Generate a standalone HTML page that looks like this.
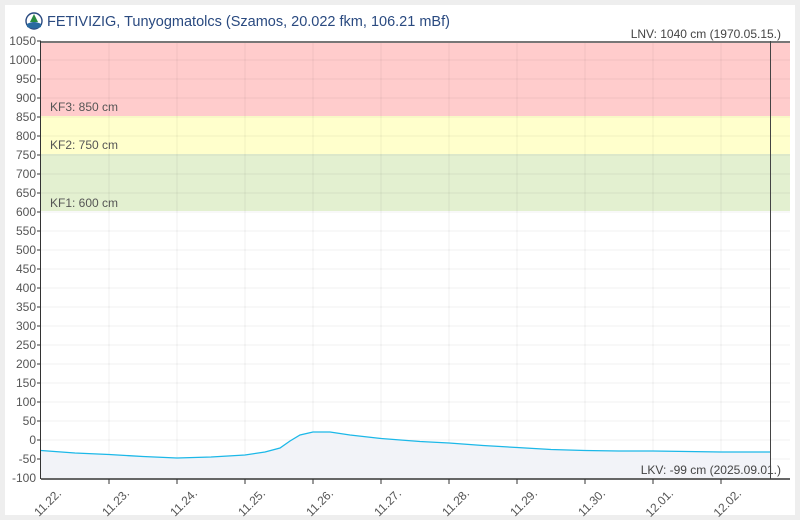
<!DOCTYPE html>
<html><head><meta charset="utf-8"><style>
html,body{margin:0;padding:0;background:#eeeeee;}
svg{display:block;font-family:"Liberation Sans",sans-serif;}
</style></head><body>
<svg width="800" height="520" xmlns="http://www.w3.org/2000/svg">
<rect x="5" y="5" width="790" height="510" fill="#fff"/>
<circle cx="34" cy="21" r="8" fill="#fff" stroke="#2a4a80" stroke-width="1.4"/>
<path d="M27 24 Q34 20 41 24 L41 27 Q34 30 27 27Z" fill="#2a6aa0"/>
<path d="M34 14 L30 22 L38 22Z" fill="#2a8a40"/>
<text x="47" y="26" font-size="14.5" fill="#2a4a80">FETIVIZIG, Tunyogmatolcs (Szamos, 20.022 fkm, 106.21 mBf)</text>
<rect x="41" y="41" width="749" height="75" fill="#ffcccc"/>
<rect x="41" y="116" width="749" height="38" fill="#ffffcc"/>
<rect x="41" y="154" width="749" height="57" fill="#e3f0d0"/>
<g stroke="#000" stroke-opacity="0.06" stroke-width="1">
<line x1="41" x2="790" y1="60" y2="60"/><line x1="41" x2="790" y1="79" y2="79"/><line x1="41" x2="790" y1="98" y2="98"/><line x1="41" x2="790" y1="117" y2="117"/><line x1="41" x2="790" y1="136" y2="136"/><line x1="41" x2="790" y1="155" y2="155"/><line x1="41" x2="790" y1="174" y2="174"/><line x1="41" x2="790" y1="193" y2="193"/><line x1="41" x2="790" y1="212" y2="212"/><line x1="41" x2="790" y1="231" y2="231"/><line x1="41" x2="790" y1="250" y2="250"/><line x1="41" x2="790" y1="269" y2="269"/><line x1="41" x2="790" y1="288" y2="288"/><line x1="41" x2="790" y1="307" y2="307"/><line x1="41" x2="790" y1="326" y2="326"/><line x1="41" x2="790" y1="345" y2="345"/><line x1="41" x2="790" y1="364" y2="364"/><line x1="41" x2="790" y1="383" y2="383"/><line x1="41" x2="790" y1="402" y2="402"/><line x1="41" x2="790" y1="421" y2="421"/><line x1="41" x2="790" y1="440" y2="440"/><line x1="41" x2="790" y1="459" y2="459"/>
<line y1="41" y2="478" x1="109" x2="109"/><line y1="41" y2="478" x1="177" x2="177"/><line y1="41" y2="478" x1="245" x2="245"/><line y1="41" y2="478" x1="313" x2="313"/><line y1="41" y2="478" x1="381" x2="381"/><line y1="41" y2="478" x1="449" x2="449"/><line y1="41" y2="478" x1="517" x2="517"/><line y1="41" y2="478" x1="585" x2="585"/><line y1="41" y2="478" x1="653" x2="653"/><line y1="41" y2="478" x1="721" x2="721"/>
</g>
<g font-size="12" fill="#555">
<text x="50" y="111">KF3: 850 cm</text>
<text x="50" y="149">KF2: 750 cm</text>
<text x="50" y="207">KF1: 600 cm</text>
</g>
<path d="M41 450.5 L75 453 L109 454.5 L143 456.5 L177 458 L211 457 L245 455 L265 452 L280 448 L290 441 L300 435 L313 432 L330 432 L350 435 L381 438.5 L420 441.5 L449 443 L483 445.5 L517 447.5 L551 449.5 L585 450.5 L619 451 L653 451 L687 451.5 L721 452 L771 452 L771 478 L41 478Z" fill="#f2f3f8"/>
<path d="M41 450.5 L75 453 L109 454.5 L143 456.5 L177 458 L211 457 L245 455 L265 452 L280 448 L290 441 L300 435 L313 432 L330 432 L350 435 L381 438.5 L420 441.5 L449 443 L483 445.5 L517 447.5 L551 449.5 L585 450.5 L619 451 L653 451 L687 451.5 L721 452 L771 452" fill="none" stroke="#1cb8e8" stroke-width="1.3"/>
<line x1="41" x2="790" y1="42" y2="42" stroke="#777" stroke-width="2"/>
<line x1="41" x2="790" y1="479" y2="479" stroke="#666" stroke-width="2"/>
<line x1="40.5" x2="40.5" y1="41" y2="479" stroke="#333" stroke-width="1"/>
<line x1="770.5" x2="770.5" y1="41" y2="479" stroke="#444" stroke-width="1"/>
<g stroke="#333"><line x1="37" x2="41" y1="41" y2="41"/><line x1="37" x2="41" y1="60" y2="60"/><line x1="37" x2="41" y1="79" y2="79"/><line x1="37" x2="41" y1="98" y2="98"/><line x1="37" x2="41" y1="117" y2="117"/><line x1="37" x2="41" y1="136" y2="136"/><line x1="37" x2="41" y1="155" y2="155"/><line x1="37" x2="41" y1="174" y2="174"/><line x1="37" x2="41" y1="193" y2="193"/><line x1="37" x2="41" y1="212" y2="212"/><line x1="37" x2="41" y1="231" y2="231"/><line x1="37" x2="41" y1="250" y2="250"/><line x1="37" x2="41" y1="269" y2="269"/><line x1="37" x2="41" y1="288" y2="288"/><line x1="37" x2="41" y1="307" y2="307"/><line x1="37" x2="41" y1="326" y2="326"/><line x1="37" x2="41" y1="345" y2="345"/><line x1="37" x2="41" y1="364" y2="364"/><line x1="37" x2="41" y1="383" y2="383"/><line x1="37" x2="41" y1="402" y2="402"/><line x1="37" x2="41" y1="421" y2="421"/><line x1="37" x2="41" y1="440" y2="440"/><line x1="37" x2="41" y1="459" y2="459"/>
<line x1="109" x2="109" y1="479" y2="484"/><line x1="177" x2="177" y1="479" y2="484"/><line x1="245" x2="245" y1="479" y2="484"/><line x1="313" x2="313" y1="479" y2="484"/><line x1="381" x2="381" y1="479" y2="484"/><line x1="449" x2="449" y1="479" y2="484"/><line x1="517" x2="517" y1="479" y2="484"/><line x1="585" x2="585" y1="479" y2="484"/><line x1="653" x2="653" y1="479" y2="484"/><line x1="721" x2="721" y1="479" y2="484"/></g>
<g font-size="12" fill="#555" text-anchor="end">
<text x="36" y="45">1050</text><text x="36" y="64">1000</text><text x="36" y="83">950</text><text x="36" y="102">900</text><text x="36" y="121">850</text><text x="36" y="140">800</text><text x="36" y="159">750</text><text x="36" y="178">700</text><text x="36" y="197">650</text><text x="36" y="216">600</text><text x="36" y="235">550</text><text x="36" y="254">500</text><text x="36" y="273">450</text><text x="36" y="292">400</text><text x="36" y="311">350</text><text x="36" y="330">300</text><text x="36" y="349">250</text><text x="36" y="368">200</text><text x="36" y="387">150</text><text x="36" y="406">100</text><text x="36" y="425">50</text><text x="36" y="444">0</text><text x="36" y="463">-50</text><text x="36" y="482">-100</text>
</g>
<g font-size="12" fill="#555" text-anchor="end">
<text transform="translate(62,494) rotate(-45)">11.22.</text>
<text transform="translate(130,494) rotate(-45)">11.23.</text>
<text transform="translate(198,494) rotate(-45)">11.24.</text>
<text transform="translate(266,494) rotate(-45)">11.25.</text>
<text transform="translate(334,494) rotate(-45)">11.26.</text>
<text transform="translate(402,494) rotate(-45)">11.27.</text>
<text transform="translate(470,494) rotate(-45)">11.28.</text>
<text transform="translate(538,494) rotate(-45)">11.29.</text>
<text transform="translate(606,494) rotate(-45)">11.30.</text>
<text transform="translate(674,494) rotate(-45)">12.01.</text>
<text transform="translate(742,494) rotate(-45)">12.02.</text>
</g>
<text x="781" y="38" font-size="12" fill="#444" text-anchor="end">LNV: 1040 cm (1970.05.15.)</text>
<text x="781" y="474" font-size="12" fill="#444" text-anchor="end">LKV: -99 cm (2025.09.01.)</text>
</svg>
</body></html>
